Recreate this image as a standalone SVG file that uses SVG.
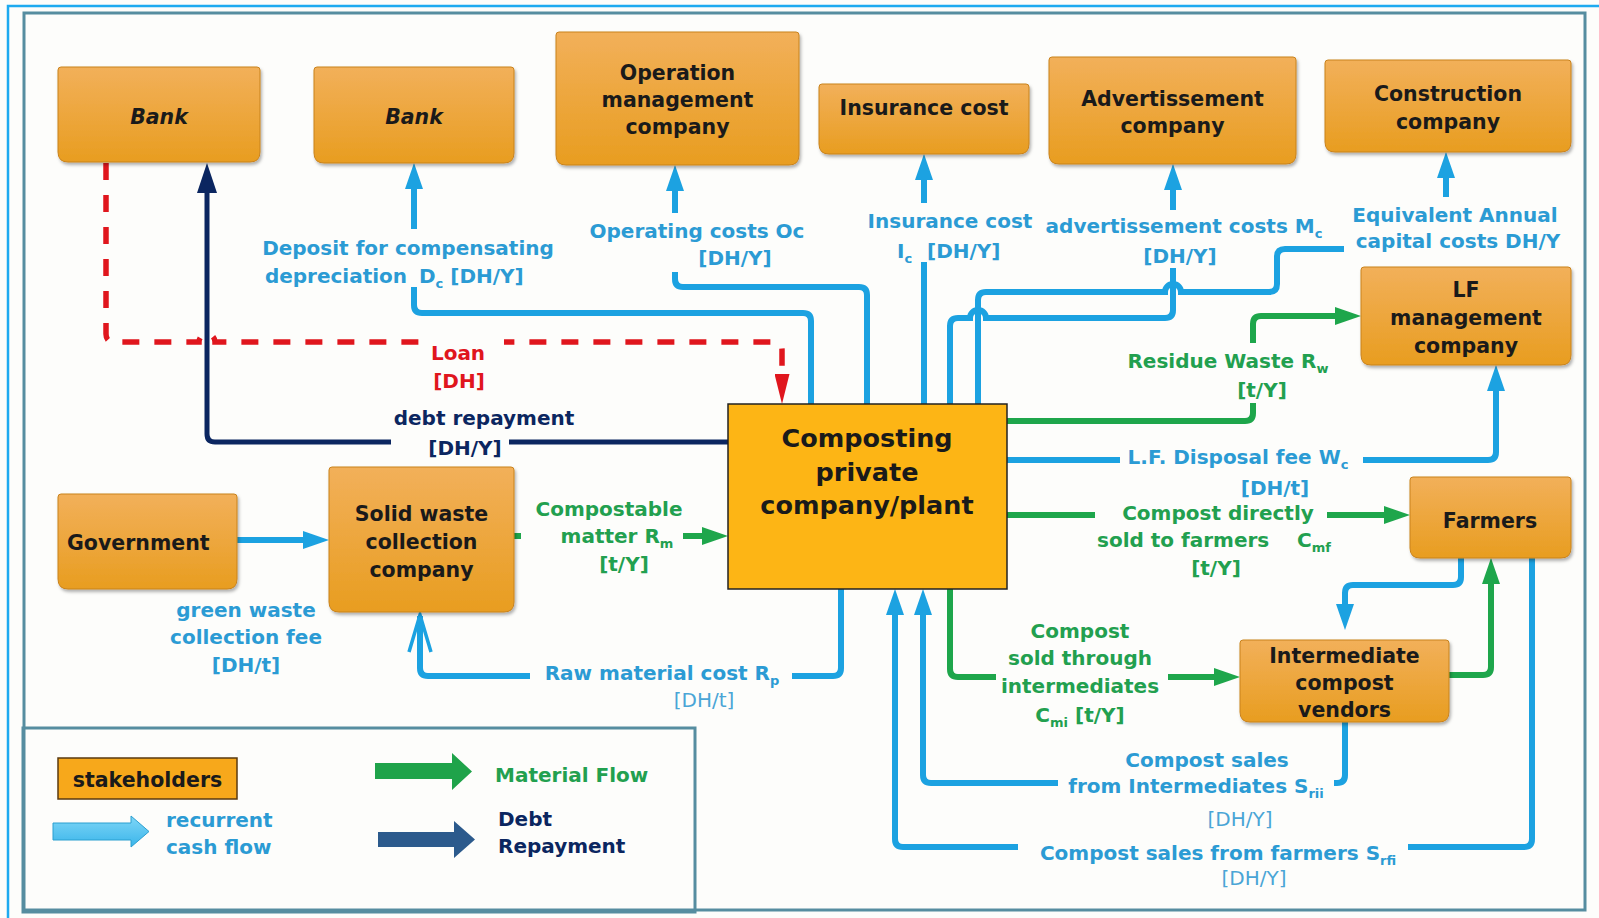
<svg xmlns="http://www.w3.org/2000/svg" width="1599" height="918" viewBox="0 0 1599 918">
<style>
.nt{font-family:"DejaVu Sans",sans-serif;font-weight:bold;font-size:20.5px;fill:#1a1a1a;text-anchor:middle}
.lb{font-family:"DejaVu Sans",sans-serif;font-weight:bold;font-size:20px}
.thin{font-family:"DejaVu Sans",sans-serif;font-size:20px;fill:#4AA5D6;text-anchor:middle}
.m{text-anchor:middle}
.b{fill:#2B9BD4}.g{fill:#22A04F}.nv{fill:#0B2660}.r{fill:#E0161D}
.sub{font-size:13px}
.cb{fill:none;stroke:#1CA2E1;stroke-width:6}
.cg{fill:none;stroke:#1EA64B;stroke-width:6}
.cn{fill:none;stroke:#0B2660;stroke-width:5}
.cr{fill:none;stroke:#E0161D;stroke-width:5.5;stroke-dasharray:17 15}
.box{fill:url(#og);stroke:#C9821C;stroke-width:1;filter:url(#sh)}
.bg{fill:#FDFDFB}
.frame{fill:none;stroke:#568DA0;stroke-width:3}
</style>
<defs>
<linearGradient id="og" x1="0" y1="0" x2="0" y2="1"><stop offset="0" stop-color="#F2B05A"/><stop offset="1" stop-color="#E89D20"/></linearGradient>
<linearGradient id="lbg" x1="0" y1="0" x2="0" y2="1"><stop offset="0" stop-color="#7FD6F7"/><stop offset="1" stop-color="#3AB5EA"/></linearGradient>
<filter id="sh" x="-10%" y="-10%" width="130%" height="140%"><feDropShadow dx="1.5" dy="2.5" stdDeviation="1.5" flood-color="#000" flood-opacity="0.3"/></filter>
<marker id="ab" viewBox="0 0 26 18" refX="6" refY="9" markerWidth="26" markerHeight="18" markerUnits="userSpaceOnUse" orient="auto"><path d="M0,0 L26,9 L0,18 z" fill="#1CA2E1"/></marker>
<marker id="ag" viewBox="0 0 26 18" refX="6" refY="9" markerWidth="26" markerHeight="18" markerUnits="userSpaceOnUse" orient="auto"><path d="M0,0 L26,9 L0,18 z" fill="#1EA64B"/></marker>
<marker id="an" viewBox="0 0 30 20" refX="6" refY="10" markerWidth="30" markerHeight="20" markerUnits="userSpaceOnUse" orient="auto"><path d="M0,0 L30,10 L0,20 z" fill="#0B2660"/></marker>
<marker id="ar" viewBox="0 0 30 15" refX="6" refY="7.5" markerWidth="30" markerHeight="15" markerUnits="userSpaceOnUse" orient="auto"><path d="M0,0 L30,7.5 L0,15 z" fill="#E0161D"/></marker>
</defs>
<rect x="0" y="0" width="1599" height="918" fill="#FDFDFB"/>
<g id="frame">
<rect x="8" y="6" width="1620" height="940" fill="none" stroke="#1EAAF0" stroke-width="2.5"/>
<rect x="24" y="13" width="1561" height="897" class="frame"/>
</g>
<g id="connectors">
<path class="cr" d="M106,163 V334 Q106,342 114,342 H199 A8,8 0 0 1 215,342 H774 Q782,342 782,350 V380" marker-end="url(#ar)"/>
<path class="cn" d="M728,442 H215 Q207,442 207,434 V187" marker-end="url(#an)"/>
<path class="cb" d="M237,540 H309" marker-end="url(#ab)"/>
<path class="cg" d="M514,536 H708" marker-end="url(#ag)"/>
<path class="cb" d="M841,589 V668 Q841,676 833,676 H428 Q420,676 420,668 V616"/>
<path d="M409,652 L420,615 L431,652" fill="none" stroke="#1CA2E1" stroke-width="3.5" stroke-linejoin="miter"/>
<path class="cb" d="M811,404 V321 Q811,313 803,313 H422 Q414,313 414,305 V183" marker-end="url(#ab)"/>
<path class="cb" d="M867,404 V295 Q867,287 859,287 H683 Q675,287 675,279 V185" marker-end="url(#ab)"/>
<path class="cb" d="M924,404 V174" marker-end="url(#ab)"/>
<path class="cb" d="M950,404 V326 Q950,318 958,318 H970 A8,8 0 0 1 986,318 H1165 Q1173,318 1173,310 V184" marker-end="url(#ab)"/>
<path class="cb" d="M978,404 V300 Q978,292 986,292 H1165 A8,8 0 0 1 1181,292 H1269 Q1277,292 1277,284 V257 Q1277,249 1285,249 H1438 Q1446,249 1446,241 V172" marker-end="url(#ab)"/>
<path class="cg" d="M1007,421 H1245 Q1253,421 1253,413 V324 Q1253,316 1261,316 H1341" marker-end="url(#ag)"/>
<path class="cb" d="M1007,460 H1488 Q1496,460 1496,452 V385" marker-end="url(#ab)"/>
<path class="cg" d="M1007,515 H1390" marker-end="url(#ag)"/>
<path class="cb" d="M1461,558 V577 Q1461,585 1453,585 H1353 Q1345,585 1345,593 V610" marker-end="url(#ab)"/>
<path class="cg" d="M1449,675 H1483 Q1491,675 1491,667 V578" marker-end="url(#ag)"/>
<path class="cg" d="M950,589 V669 Q950,677 958,677 H1220" marker-end="url(#ag)"/>
<path class="cb" d="M1345,722 V775 Q1345,783 1337,783 H931 Q923,783 923,775 V609" marker-end="url(#ab)"/>
<path class="cb" d="M1532,558 V839 Q1532,847 1524,847 H903 Q895,847 895,839 V609" marker-end="url(#ab)"/>
</g>
<g id="labels">
<g class="bg">
<rect x="424" y="336" width="80" height="56"/>
<rect x="391" y="434" width="118" height="26"/>
<rect x="256" y="229" width="305" height="58"/>
<rect x="584" y="213" width="226" height="59"/>
<rect x="860" y="203" width="180" height="59"/>
<rect x="1040" y="210" width="290" height="30"/>
<rect x="1135" y="240" width="90" height="28"/>
<rect x="1344" y="197" width="226" height="58"/>
<rect x="1122" y="343" width="212" height="30"/>
<rect x="1228" y="373" width="66" height="30"/>
<rect x="1120" y="446" width="243" height="24"/>
<rect x="1095" y="500" width="232" height="26"/>
<rect x="521" y="494" width="162" height="82"/>
<rect x="530" y="662" width="262" height="26"/>
<rect x="996" y="668" width="172" height="30"/>
<rect x="1058" y="772" width="276" height="26"/>
<rect x="1018" y="836" width="390" height="28"/>
</g>
<text class="lb r m" x="458" y="360">Loan</text>
<text class="lb r m" x="459" y="388">[DH]</text>
<text class="lb nv m" x="484" y="425">debt repayment</text>
<text class="lb nv m" x="465" y="455">[DH/Y]</text>
<text class="lb b m" x="408" y="255">Deposit for compensating</text>
<text class="lb b m" x="336" y="283">depreciation</text>
<text class="lb b" x="419" y="283">D<tspan class="sub" dy="5">c</tspan><tspan dy="-5"> [DH/Y]</tspan></text>
<text class="lb b m" x="697" y="238">Operating costs Oc</text>
<text class="lb b m" x="735" y="265">[DH/Y]</text>
<text class="lb b m" x="950" y="228">Insurance cost</text>
<text class="lb b" x="897" y="258">I<tspan class="sub" dy="5">c</tspan><tspan x="927" dy="-5">[DH/Y]</tspan></text>
<text class="lb b m" x="1184" y="233">advertissement costs M<tspan class="sub" dy="5">c</tspan></text>
<text class="lb b m" x="1180" y="263">[DH/Y]</text>
<text class="lb b m" x="1455" y="222">Equivalent Annual</text>
<text class="lb b m" x="1458" y="248">capital costs DH/Y</text>
<text class="lb g m" x="1228" y="368">Residue Waste R<tspan class="sub" dy="5">w</tspan></text>
<text class="lb g m" x="1262" y="397">[t/Y]</text>
<text class="lb b m" x="1238" y="464">L.F. Disposal fee W<tspan class="sub" dy="5">c</tspan></text>
<text class="lb b m" x="1275" y="495">[DH/t]</text>
<text class="lb g m" x="1218" y="520">Compost directly</text>
<text class="lb g" x="1097" y="547">sold to farmers<tspan x="1297">C</tspan><tspan class="sub" dy="5">mf</tspan></text>
<text class="lb g m" x="1216" y="575">[t/Y]</text>
<text class="lb g m" x="1080" y="638">Compost</text>
<text class="lb g m" x="1080" y="665">sold through</text>
<text class="lb g m" x="1080" y="693">intermediates</text>
<text class="lb g m" x="1080" y="722">C<tspan class="sub" dy="5">mi</tspan><tspan dy="-5"> [t/Y]</tspan></text>
<text class="lb b m" x="1207" y="767">Compost sales</text>
<text class="lb b m" x="1196" y="793">from Intermediates S<tspan class="sub" dy="5">rii</tspan></text>
<text class="thin" x="1240" y="826">[DH/Y]</text>
<text class="lb b m" x="1218" y="860">Compost sales from farmers S<tspan class="sub" dy="5">rfi</tspan></text>
<text class="thin" x="1254" y="885">[DH/Y]</text>
<text class="lb b m" x="662" y="680">Raw material cost R<tspan class="sub" dy="5">p</tspan></text>
<text class="thin" x="704" y="707">[DH/t]</text>
<text class="lb g m" x="609" y="516">Compostable</text>
<text class="lb g m" x="617" y="543">matter R<tspan class="sub" dy="5">m</tspan></text>
<text class="lb g m" x="624" y="571">[t/Y]</text>
<text class="lb b m" x="246" y="617">green waste</text>
<text class="lb b m" x="246" y="644">collection fee</text>
<text class="lb b m" x="246" y="672">[DH/t]</text>
</g>
<g id="node-bank1"><path class="box" d="M61,67 H257 Q260,67 260,70 V152 Q260,162 250,162 H68 Q58,162 58,152 V70 Q58,67 61,67 Z"/><text class="nt" x="159" y="124" font-style="italic">Bank</text></g>
<g id="node-bank2"><path class="box" d="M317,67 H511 Q514,67 514,70 V153 Q514,163 504,163 H324 Q314,163 314,153 V70 Q314,67 317,67 Z"/><text class="nt" x="414" y="124" font-style="italic">Bank</text></g>
<g id="node-operation"><path class="box" d="M559,32 H796 Q799,32 799,35 V155 Q799,165 789,165 H566 Q556,165 556,155 V35 Q556,32 559,32 Z"/><text class="nt" x="677.5" y="80">Operation</text><text class="nt" x="677.5" y="107">management</text><text class="nt" x="677.5" y="134">company</text></g>
<g id="node-insurance"><path class="box" d="M822,84 H1026 Q1029,84 1029,87 V144 Q1029,154 1019,154 H829 Q819,154 819,144 V87 Q819,84 822,84 Z"/><text class="nt" x="924" y="115">Insurance cost</text></g>
<g id="node-advert"><path class="box" d="M1052,57 H1293 Q1296,57 1296,60 V154 Q1296,164 1286,164 H1059 Q1049,164 1049,154 V60 Q1049,57 1052,57 Z"/><text class="nt" x="1172.5" y="106">Advertissement</text><text class="nt" x="1172.5" y="133">company</text></g>
<g id="node-construction"><path class="box" d="M1328,60 H1568 Q1571,60 1571,63 V142 Q1571,152 1561,152 H1335 Q1325,152 1325,142 V63 Q1325,60 1328,60 Z"/><text class="nt" x="1448" y="101">Construction</text><text class="nt" x="1448" y="129">company</text></g>
<g id="node-lf"><path class="box" d="M1364,267 H1568 Q1571,267 1571,270 V355 Q1571,365 1561,365 H1371 Q1361,365 1361,355 V270 Q1361,267 1364,267 Z"/><text class="nt" x="1466" y="297">LF</text><text class="nt" x="1466" y="325">management</text><text class="nt" x="1466" y="353">company</text></g>
<g id="node-farmers"><path class="box" d="M1413,477 H1568 Q1571,477 1571,480 V548 Q1571,558 1561,558 H1420 Q1410,558 1410,548 V480 Q1410,477 1413,477 Z"/><text class="nt" x="1490" y="528">Farmers</text></g>
<g id="node-intermediate"><path class="box" d="M1243,640 H1446 Q1449,640 1449,643 V712 Q1449,722 1439,722 H1250 Q1240,722 1240,712 V643 Q1240,640 1243,640 Z"/><text class="nt" x="1344.5" y="663">Intermediate</text><text class="nt" x="1344.5" y="690">compost</text><text class="nt" x="1344.5" y="717">vendors</text></g>
<g id="node-composting"><rect x="728" y="404" width="279" height="185" fill="#FDB515" stroke="#222" stroke-width="1.5"/><text class="nt" x="867" y="447" style="font-size:25.5px">Composting</text><text class="nt" x="867" y="481" style="font-size:25.5px">private</text><text class="nt" x="867" y="514" style="font-size:25.5px">company/plant</text></g>
<g id="node-solidwaste"><path class="box" d="M332,467 H511 Q514,467 514,470 V602 Q514,612 504,612 H339 Q329,612 329,602 V470 Q329,467 332,467 Z"/><text class="nt" x="421.5" y="521">Solid waste</text><text class="nt" x="421.5" y="549">collection</text><text class="nt" x="421.5" y="577">company</text></g>
<g id="node-government"><path class="box" d="M61,494 H234 Q237,494 237,497 V579 Q237,589 227,589 H68 Q58,589 58,579 V497 Q58,494 61,494 Z"/><text class="nt" x="67" y="550" style="text-anchor:start">Government</text></g>
<g id="legend">
<rect x="23" y="728" width="672" height="184" class="frame"/>
<rect x="58" y="758" width="179" height="41" fill="#F7A81B" stroke="#5A3A10" stroke-width="1.5"/>
<text class="nt" x="147.5" y="787">stakeholders</text>
<path d="M53,823 H131 V816 L149,831.5 L131,847 V840 H53 Z" fill="url(#lbg)" stroke="#2A9FD0" stroke-width="1"/>
<text class="lb b" x="166" y="827">recurrent</text>
<text class="lb b" x="166" y="854">cash flow</text>
<path d="M375,763 H452 V753 L472,771.5 L452,790 V779 H375 Z" fill="#1FA34A"/>
<text class="lb g" x="495" y="782">Material Flow</text>
<path d="M378,832 H454 V821 L475,839.5 L454,858 V847 H378 Z" fill="#2C5A8C"/>
<text class="lb nv" x="498" y="826">Debt</text>
<text class="lb nv" x="498" y="853">Repayment</text>
</g>
</svg>
